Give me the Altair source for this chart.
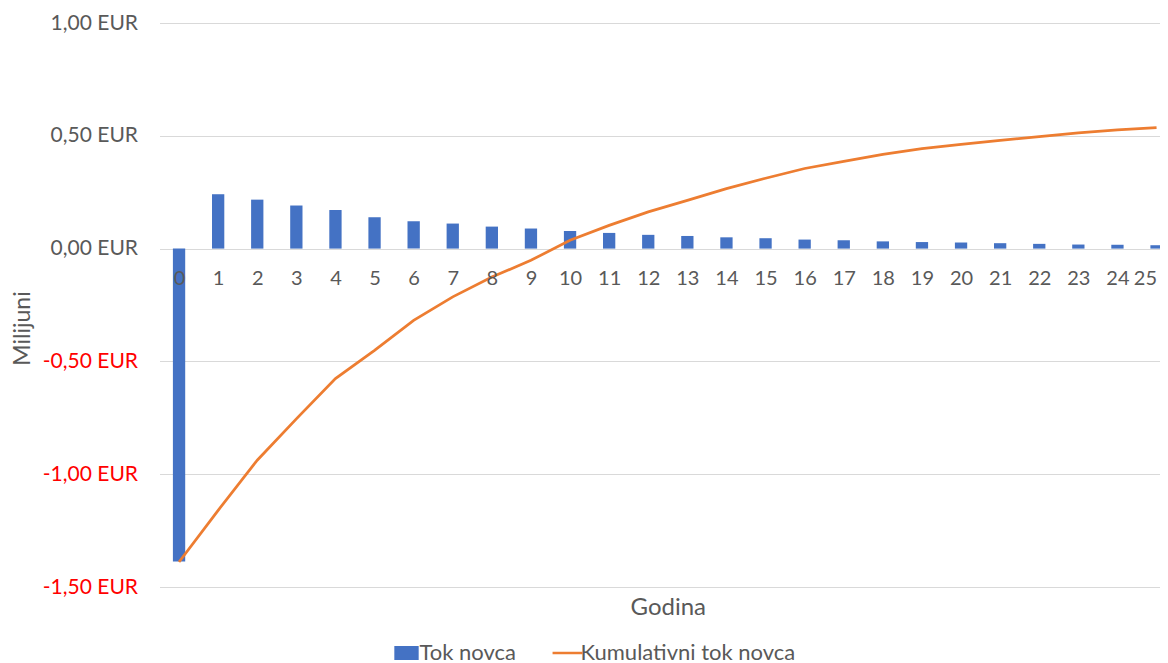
import altair as alt
import pandas as pd

# ---- data ----
years = list(range(26))
tok_novca = [-1.387, 0.241, 0.217, 0.191, 0.171, 0.139, 0.121, 0.111, 0.0975, 0.089,
             0.078, 0.0695, 0.061, 0.056, 0.050, 0.046, 0.040, 0.037, 0.032, 0.029,
             0.027, 0.024, 0.021, 0.018, 0.017, 0.015]
kumulativni = [-1.389, -1.160, -0.938, -0.755, -0.576, -0.451, -0.318, -0.214, -0.126, -0.052,
               0.037, 0.103, 0.163, 0.214, 0.266, 0.312, 0.355, 0.387, 0.418, 0.443,
               0.462, 0.480, 0.496, 0.513, 0.526, 0.536]
series = ["Tok novca", "Kumulativni tok novca"]
y_ticks = [-1.5, -1.0, -0.5, 0.0, 0.5, 1.0]

BLUE = "#4472C4"
ORANGE = "#ED7D31"
GRAY = "#595959"
FONT = "Lato"

W = 1000.5          # visible plot width (the reference's plot runs past the right edge)
STEP = 39.1         # spacing of the year categories in the reference
x_max = -0.5 + W / STEP

df = pd.DataFrame({"Godina": years, "Tok": tok_novca, "Kum": kumulativni})
leg_df = pd.DataFrame({"serija": series})

x_scale = alt.Scale(domain=[-0.5, x_max], nice=False, zero=False, padding=0)
y_scale = alt.Scale(domain=[-1.5, 1.0], nice=False)

last_year = years[-1]
x_axis = alt.Axis(
    values=years, format="d", labelFlush=False, labelOverlap=False,
    labelAlign={"condition": {"test": f"datum.value == {last_year}", "value": "right"}, "value": "center"},
    orient="bottom", offset=-338.4, domain=False, ticks=False, grid=False, zindex=1,
    labelAngle=0, labelPadding=20, labelFontSize=20, labelColor=GRAY, labelFont=FONT,
    title="Godina", titleFontSize=24, titleFontWeight="normal", titleColor=GRAY,
    titleFont=FONT, titleX=508.3, titleY=359, titleAlign="center", titleBaseline="middle",
)
y_axis = alt.Axis(
    values=y_ticks, domain=False, ticks=False, grid=True, gridColor="#D9D9D9", gridWidth=1,
    labelExpr="(datum.value < 0 ? '-' : '') + replace(format(abs(datum.value), '.2f'), '.', ',') + ' EUR'",
    labelColor={"condition": {"test": "datum.value < 0", "value": "#FF0000"}, "value": GRAY},
    labelFontSize=21, labelFont=FONT, labelPadding=22,
    title="Milijuni", titleFontSize=23, titleFontWeight="normal", titleColor=GRAY, titleFont=FONT,
    titleAngle=270, titleX=-137, titleY=305, titleAlign="center", titleBaseline="middle",
)

bars = alt.Chart(df).mark_bar(color=BLUE, size=12.3).encode(
    x=alt.X("Godina:Q", scale=x_scale, axis=x_axis),
    y=alt.Y("Tok:Q", scale=y_scale, axis=y_axis),
)

line = alt.Chart(df).mark_line(color=ORANGE, strokeWidth=2.75).encode(
    x=alt.X("Godina:Q"),
    y=alt.Y("Kum:Q", title="Milijuni"),
)

rect_path = "M-0.95,-0.5H0.95V0.5H-0.95Z"
line_path = "M-1.3,0H1.3"
legend = alt.Legend(
    orient="none", legendX=234, legendY=617, direction="horizontal", title=None,
    labelFontSize=22, labelColor=GRAY, labelFont=FONT, labelOffset=0, labelLimit=400,
    symbolSize=529, symbolStrokeWidth=2.5, symbolOpacity=1, columnPadding=31,
)
legend_layer = alt.Chart(leg_df).mark_point(filled=True, opacity=1).encode(
    color=alt.Color("serija:N", scale=alt.Scale(domain=series, range=[BLUE, ORANGE]), legend=legend),
    stroke=alt.Stroke("serija:N", scale=alt.Scale(domain=series, range=[BLUE, ORANGE]), legend=legend),
    shape=alt.Shape("serija:N", scale=alt.Scale(domain=series, range=[rect_path, line_path]), legend=legend),
).transform_filter("false")

chart = alt.layer(bars, line, legend_layer).properties(
    width=W, height=564,
    autosize=alt.AutoSizeParams(type="none"),
    padding={"left": 151.5, "top": 15, "right": 0, "bottom": 76},
).configure_view(stroke=None)

chart.save("out.html", embed_options={"renderer": "svg", "actions": False})
